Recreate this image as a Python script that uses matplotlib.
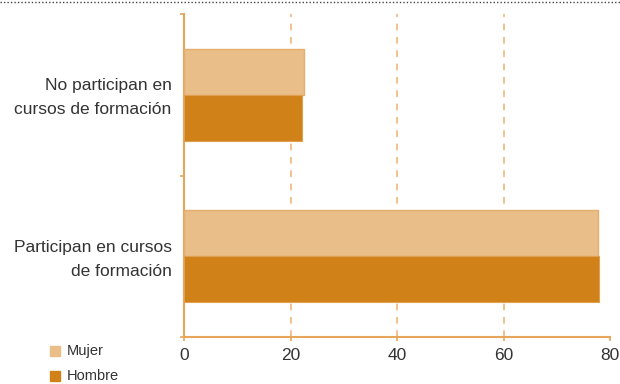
import matplotlib.pyplot as plt
import matplotlib.transforms as mtransforms
from matplotlib.lines import Line2D
from matplotlib.patches import Rectangle

plt.rcParams['font.family'] = ['Liberation Sans', 'DejaVu Sans']

categories = ['Participan en cursos\nde formación', 'No participan en\ncursos de formación']
mujer = [77.7, 22.6]
hombre = [78.0, 22.2]
xticks = [0, 20, 40, 60, 80]

c_mujer = '#E9BE88'
c_hombre = '#D08219'
c_axis = '#E8A55C'
c_text = '#333333'

fig = plt.figure(figsize=(6.2, 3.84), dpi=100)
ax = fig.add_axes([184 / 620, 1 - 337 / 384, 426 / 620, 323 / 384])

pos = [0.5, 1.5]
h = 0.285
ax.barh([p + h / 2 for p in pos], mujer, height=h, color=c_mujer,
        edgecolor='#E5AE6E', linewidth=1, zorder=3)
ax.barh([p - h / 2 for p in pos], hombre, height=h, color=c_hombre,
        edgecolor='#E0A050', linewidth=0.8, zorder=3)

ax.set_xlim(0, 80)
ax.set_ylim(0, 2)

# dashed gridlines
for x in xticks[1:-1]:
    ax.axvline(x, color='#F0B77A', linestyle=(0, (4, 4)), linewidth=1.2, zorder=1)

for s in ['top', 'right']:
    ax.spines[s].set_visible(False)
for s in ['left', 'bottom']:
    ax.spines[s].set_color(c_axis)
    ax.spines[s].set_linewidth(1.5)

ax.set_xticks(xticks)
ax.set_xticklabels([str(v) for v in xticks], fontsize=12.5, color=c_text)
ax.tick_params(axis='x', colors=c_axis, length=3, width=1.2, labelcolor=c_text, pad=5)

ax.set_yticks(pos)
ax.set_yticklabels(categories, fontsize=12.5, color=c_text, linespacing=1.75)
ax.tick_params(axis='y', length=0, pad=9)
# nudge category labels up a little
shift = mtransforms.ScaledTranslation(0, 3 / 100, fig.dpi_scale_trans)
for lbl in ax.get_yticklabels():
    lbl.set_transform(lbl.get_transform() + shift)
ax.set_yticks([0, 1, 2], minor=True)
ax.tick_params(axis='y', which='minor', colors=c_axis, length=3, width=1.2)

# legend
labels = ['Mujer', 'Hombre']
colors = [c_mujer, c_hombre]
for i, (lab, col) in enumerate(zip(labels, colors)):
    y = 1 - (351 + 25 * i) / 384
    fig.add_artist(Rectangle((50 / 620, y - 5 / 384), 10 / 620, 10 / 384,
                             transform=fig.transFigure, color=col))
    fig.text(67 / 620, y, lab, fontsize=10.5, color=c_text, va='center')

# dotted border line at top
fig.add_artist(Line2D([0, 1], [1 - 2 / 384, 1 - 2 / 384], transform=fig.transFigure,
                      color='#444444', linestyle=(0, (1, 1.5)), linewidth=1))

fig.savefig('out.png', dpi=100)
